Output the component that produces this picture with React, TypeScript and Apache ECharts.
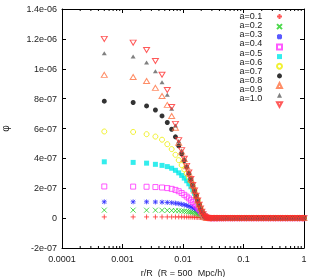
import React, { useEffect, useRef } from "react";
import * as echarts from "echarts";

const seriesNames = ["a=0.1", "a=0.2", "a=0.3", "a=0.4", "a=0.5", "a=0.6", "a=0.7", "a=0.8", "a=0.9", "a=1.0"];

// r/R bin centres (inner region)
const rHead = [
  0.0005, 0.0015, 0.0025, 0.0035, 0.0045, 0.0055, 0.0065, 0.0075, 0.0085, 0.0095,
  0.0105, 0.0115, 0.0125, 0.0135, 0.0145, 0.0155, 0.0165, 0.0175, 0.0185, 0.0195,
  0.0205, 0.0215, 0.0225, 0.0235, 0.0245,
];
// outer region (field ~ 0)
const rTail = [
  0.0255, 0.0265, 0.0275, 0.0285, 0.0295, 0.0315, 0.0335, 0.0355, 0.0375, 0.0405,
  0.0435, 0.0465, 0.0505, 0.0555, 0.0605, 0.0655, 0.0715, 0.0785, 0.0855, 0.0935,
  0.1025, 0.1125, 0.1235, 0.1355, 0.1485, 0.1625, 0.1785, 0.1955, 0.2145, 0.2355,
  0.2575, 0.2825, 0.3095, 0.3395, 0.3725, 0.4085, 0.4475, 0.4905, 0.5375, 0.5895,
  0.6465, 0.7085, 0.7765, 0.8515, 0.9335, 0.9995,
];
// phi values in units of 1e-7
const tailPhi = [
  0.01, 0.01, 0.005, 0, 0, 0, 0, 0, 0, 0,
  0, 0, 0, 0, 0, 0, 0, 0, 0, 0,
  0, 0, 0, 0, 0, 0, 0, 0, 0, 0,
  0, 0, 0, 0, 0, 0, 0, 0, 0, 0,
  0, 0, 0, 0, 0, 0,
];
const phiA01 = [0.08, 0.08, 0.08, 0.08, 0.08, 0.08, 0.08, 0.08, 0.08, 0.08, 0.075, 0.075, 0.07, 0.07, 0.065, 0.06, 0.055, 0.05, 0.045, 0.04, 0.035, 0.03, 0.02, 0.01, 0.005];
const phiA02 = [0.535, 0.535, 0.53, 0.53, 0.525, 0.52, 0.51, 0.5, 0.49, 0.48, 0.465, 0.45, 0.43, 0.41, 0.39, 0.36, 0.33, 0.3, 0.26, 0.22, 0.18, 0.13, 0.08, 0.04, 0.01];
const phiA03 = [1.09, 1.09, 1.09, 1.08, 1.07, 1.05, 1.03, 1.0, 0.97, 0.93, 0.89, 0.85, 0.8, 0.75, 0.7, 0.64, 0.58, 0.51, 0.44, 0.36, 0.28, 0.2, 0.12, 0.06, 0.02];
const phiA04 = [2.12, 2.11, 2.1, 2.08, 2.05, 2.01, 1.96, 1.89, 1.8, 1.68, 1.56, 1.44, 1.32, 1.2, 1.08, 0.96, 0.84, 0.72, 0.6, 0.48, 0.36, 0.24, 0.13, 0.06, 0.02];
const phiA05 = [3.77, 3.73, 3.68, 3.6, 3.53, 3.45, 3.34, 3.2, 3.03, 2.86, 2.68, 2.5, 2.3, 2.1, 1.9, 1.67, 1.42, 1.15, 0.88, 0.64, 0.43, 0.26, 0.13, 0.06, 0.02];
const phiA06 = [5.8, 5.77, 5.62, 5.46, 5.25, 4.95, 4.62, 4.24, 3.88, 3.55, 3.26, 2.98, 2.7, 2.45, 2.16, 1.83, 1.49, 1.18, 0.9, 0.65, 0.43, 0.26, 0.13, 0.06, 0.02];
const phiA07 = [7.83, 7.74, 7.51, 7.24, 6.84, 6.4, 5.95, 5.44, 4.84, 4.3, 3.85, 3.42, 3.0, 2.6, 2.2, 1.84, 1.5, 1.18, 0.9, 0.65, 0.43, 0.26, 0.13, 0.06, 0.02];
const phiA08 = [9.59, 9.45, 9.18, 8.72, 8.18, 7.58, 6.84, 6.05, 5.05, 4.45, 3.95, 3.47, 3.03, 2.6, 2.2, 1.84, 1.5, 1.18, 0.9, 0.65, 0.43, 0.26, 0.13, 0.06, 0.02];
const phiA09 = [11.04, 10.82, 10.42, 9.84, 9.1, 8.26, 7.33, 6.2, 5.15, 4.5, 3.97, 3.49, 3.04, 2.61, 2.21, 1.85, 1.5, 1.18, 0.9, 0.65, 0.43, 0.26, 0.13, 0.06, 0.02];
const phiA10 = [12.0, 11.75, 11.25, 10.52, 9.6, 8.58, 7.44, 6.31, 5.22, 4.55, 3.98, 3.5, 3.05, 2.62, 2.22, 1.85, 1.5, 1.18, 0.9, 0.65, 0.43, 0.26, 0.13, 0.06, 0.02];
const phiSeries = [phiA01, phiA02, phiA03, phiA04, phiA05, phiA06, phiA07, phiA08, phiA09, phiA10];
const PHI_UNIT = 1e-7;

const xTickLabels = ["0.0001", "0.001", "0.01", "0.1", "1"];
const yTickLabels = ["-2e-07", "0", "2e-07", "4e-07", "6e-07", "8e-07", "1e-06", "1.2e-06", "1.4e-06"];
const minorDecades = [0.0001, 0.001, 0.01, 0.1];
const minorMultipliers = [2, 3, 4, 5, 6, 7, 8, 9];

const PLUS = "path://M0,5L10,5M5,0L5,10";
const CROSS = "path://M1,1L9,9M9,1L1,9";
const STAR = "path://M0,5L10,5M5,0L5,10M1,1L9,9M9,1L1,9";
const TRI_DOWN = "path://M0,0L10,0L5,9Z";

const styles = [
  { symbol: PLUS, size: 5, color: "#ff3030", hollow: true },
  { symbol: CROSS, size: 5, color: "#20d020", hollow: true },
  { symbol: STAR, size: 5, color: "#3030ff", hollow: true },
  { symbol: "rect", size: 5, color: "#ff30ff", hollow: true },
  { symbol: "rect", size: 5, color: "#00e8e8", hollow: false },
  { symbol: "circle", size: 5, color: "#eeee00", hollow: true },
  { symbol: "circle", size: 5, color: "#000000", hollow: false },
  { symbol: "triangle", size: [6, 5], color: "#ff7040", hollow: true },
  { symbol: "triangle", size: [5, 4], color: "#606060", hollow: false },
  { symbol: TRI_DOWN, size: [6, 5], color: "#ff3030", hollow: true },
];

export default function App() {
  const ref = useRef<HTMLDivElement>(null);
  useEffect(() => {
    const chart = echarts.init(ref.current!, null, { renderer: "svg" });
    const font = "'Liberation Sans', Arial, sans-serif";
    const textColor = "#222";
    const axisLine = { show: true, onZero: false, lineStyle: { color: "#000", width: 1 } };
    const majorTick = { show: true, inside: true, length: 4, lineStyle: { color: "#000", width: 1 } };

    const series = phiSeries.map((vals, k) => {
      const st = styles[k];
      const data = rHead
        .map((r, i) => [r, vals[i] * PHI_UNIT])
        .concat(rTail.map((r, i) => [r, tailPhi[i] * PHI_UNIT]));
      return {
        name: seriesNames[k],
        type: "scatter",
        symbol: st.symbol,
        symbolSize: st.size,
        itemStyle: st.hollow
          ? { color: "none", borderColor: st.color, borderWidth: 1 }
          : { color: st.color, borderWidth: 0 },
        emphasis: { disabled: true },
        data,
      };
    });

    const legendText = { fontSize: 9, color: textColor, fontFamily: font, lineHeight: 9, padding: 0 };

    chart.setOption({
      animation: false,
      grid: { left: 62, right: 8, top: 9, bottom: 29, containLabel: false, outerBoundsMode: "none" },
      legend: [
        {
          // labels
          orient: "vertical",
          left: 232,
          top: 11.5,
          align: "left",
          itemWidth: 0,
          itemHeight: 0,
          itemGap: 0.15,
          padding: 0,
          selectedMode: false,
          itemStyle: { opacity: 0 },
          textStyle: legendText,
          data: seriesNames,
        },
        {
          // symbols
          orient: "vertical",
          left: 274.5,
          top: 11.5,
          align: "left",
          itemWidth: 5,
          itemHeight: 5,
          itemGap: 0.15,
          padding: 0,
          selectedMode: false,
          formatter: () => " ",
          textStyle: legendText,
          data: seriesNames,
        },
      ],
      xAxis: [
        {
          type: "log",
          logBase: 10,
          min: 0.0001,
          max: 1,
          position: "bottom",
          axisLine,
          axisTick: majorTick,
          splitLine: { show: false },
          axisLabel: {
            fontSize: 9,
            color: textColor,
            fontFamily: font,
            margin: 6,
            formatter: (v: number) => xTickLabels[Math.round(Math.log10(v)) + 4] ?? "",
          },
          name: "r/R  (R = 500  Mpc/h)",
          nameLocation: "middle",
          nameGap: 20.5,
          nameTextStyle: { fontSize: 9, color: textColor, fontFamily: font },
        },
        {
          type: "log",
          logBase: 10,
          min: 0.0001,
          max: 1,
          position: "top",
          axisLine,
          axisTick: majorTick,
          splitLine: { show: false },
          axisLabel: { show: false },
        },
      ],
      yAxis: [
        {
          type: "value",
          min: -2e-7,
          max: 1.4e-6,
          interval: 2e-7,
          position: "left",
          axisLine,
          axisTick: majorTick,
          splitLine: { show: false },
          axisLabel: {
            fontSize: 9,
            color: textColor,
            fontFamily: font,
            margin: 5,
            formatter: (v: number) => yTickLabels[Math.round(v / 2e-7) + 1] ?? "",
          },
          name: "φ",
          nameLocation: "middle",
          nameRotate: 90,
          nameGap: 52,
          nameTextStyle: { fontSize: 10, color: textColor, fontFamily: font },
        },
        {
          type: "value",
          min: -2e-7,
          max: 1.4e-6,
          interval: 2e-7,
          position: "right",
          axisLine,
          axisTick: majorTick,
          splitLine: { show: false },
          axisLabel: { show: false },
        },
      ],
      series,
    });

    const yb = chart.convertToPixel({ yAxisIndex: 0 }, -2e-7) as number;
    const yt = chart.convertToPixel({ yAxisIndex: 0 }, 1.4e-6) as number;
    const elements: any[] = [];
    minorDecades.forEach((d) =>
      minorMultipliers.forEach((m) => {
        const px = chart.convertToPixel({ xAxisIndex: 0 }, d * m) as number;
        elements.push({
          type: "line",
          silent: true,
          shape: { x1: px, y1: yb, x2: px, y2: yb - 2 },
          style: { stroke: "#000", lineWidth: 1 },
        });
        elements.push({
          type: "line",
          silent: true,
          shape: { x1: px, y1: yt, x2: px, y2: yt + 2 },
          style: { stroke: "#000", lineWidth: 1 },
        });
      })
    );
    chart.setOption({ graphic: elements });

    return () => chart.dispose();
  }, []);
  return <div ref={ref} style={{ position: "fixed", left: 0, top: 0, width: 312, height: 277 }} />;
}
